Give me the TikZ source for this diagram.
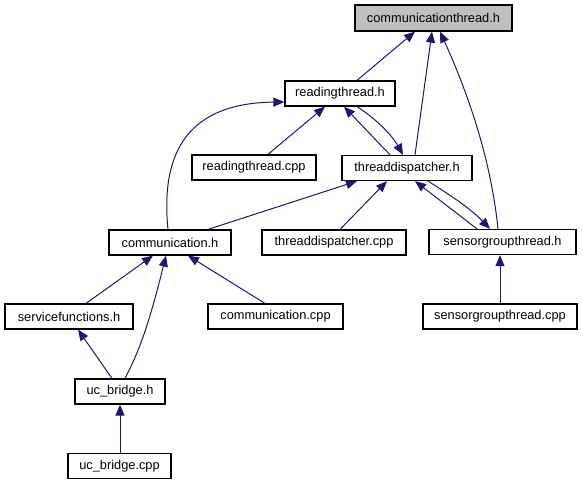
\documentclass[tikz,border=0pt]{standalone}
\usepackage{fontspec}
\setmainfont{Liberation Sans}
\usetikzlibrary{arrows.meta}
\definecolor{edgeblue}{RGB}{25,25,112}
\definecolor{curfill}{RGB}{191,191,191}
\begin{document}
\begin{tikzpicture}[x=1pt,y=-1pt,
  box/.style={draw=black,line width=1.2pt,fill=white,inner sep=0pt,minimum height=25pt,
    font=\fontsize{12.8}{14}\selectfont},
  edge/.style={draw=edgeblue,line width=1pt,-{Triangle[length=11pt,width=9pt]}}]
\useasboundingbox (0,0) rectangle (583,485);
\node[box,fill=curfill,minimum width=157pt,minimum height=26pt] (ct) at (433.5,18) {communicationthread.h};
\node[box,minimum width=110pt] (rt) at (340,93.5) {readingthread.h};
\node[box,minimum width=124pt] (rtc) at (254,167.5) {readingthread.cpp};
\node[box,minimum width=130pt] (td) at (407,168) {threaddispatcher.h};
\node[box,minimum width=122pt] (cm) at (170,242.5) {communication.h};
\node[box,minimum width=144pt] (tdc) at (334,242.5) {threaddispatcher.cpp};
\node[box,minimum width=147pt] (sgt) at (502.5,242) {sensorgroupthread.h};
\node[box,minimum width=128pt] (sf) at (69,316.5) {servicefunctions.h};
\node[box,minimum width=135pt] (cmc) at (275.5,316.5) {communication.cpp};
\node[box,minimum width=154pt] (sgc) at (500,316.5) {sensorgroupthread.cpp};
\node[box,minimum width=90pt] (ucb) at (120,391.5) {uc\_bridge.h};
\node[box,minimum width=103pt] (ucc) at (119.5,466) {uc\_bridge.cpp};
% edges
\draw[edge] ([xshift=17pt]rt.north) -- ([xshift=-18.5pt]ct.south);
\draw[edge] ([xshift=8pt]td.north) -- ([xshift=-1.5pt]ct.south);
\draw[edge] ([xshift=-4.5pt]sgt.north) .. controls (490,150) and (462,80) .. ([xshift=6.5pt]ct.south);
\draw[edge] ([xshift=14pt]rtc.north) -- ([xshift=-15pt]rt.south);
\draw[edge] ([xshift=-17pt]td.north) -- ([xshift=4pt]rt.south);
\draw[edge] ([xshift=17pt]rt.south) .. controls (375,118) and (392,135) .. ([xshift=-4pt]td.north);
\draw[edge] ([xshift=-2pt]cm.north) .. controls (160,150) and (190,103) .. ([yshift=-8.5pt]rt.west);
\draw[edge] ([xshift=38pt]cm.north) -- ([xshift=-50pt]td.south);
\draw[edge] ([xshift=6pt]tdc.north) -- ([xshift=-20pt]td.south);
\draw[edge] ([xshift=-25.5pt]sgt.north) -- ([xshift=8pt]td.south);
\draw[edge] ([xshift=21pt]td.south) .. controls (450,195) and (470,208) .. ([xshift=-12.5pt]sgt.north);
\draw[edge] (sgc.north) -- ([xshift=-2.5pt]sgt.south);
\draw[edge] ([xshift=17pt]sf.north) -- ([xshift=-17pt]cm.south);
\draw[edge] ([xshift=5pt]ucb.north) .. controls (140,350) and (150,320) .. ([xshift=-4pt]cm.south);
\draw[edge] ([xshift=-10.5pt]cmc.north) -- ([xshift=18pt]cm.south);
\draw[edge] ([xshift=-8pt]ucb.north) -- ([xshift=9pt]sf.south);
\draw[edge] ([xshift=0.5pt]ucc.north) -- (ucb.south);
\end{tikzpicture}
\end{document}
